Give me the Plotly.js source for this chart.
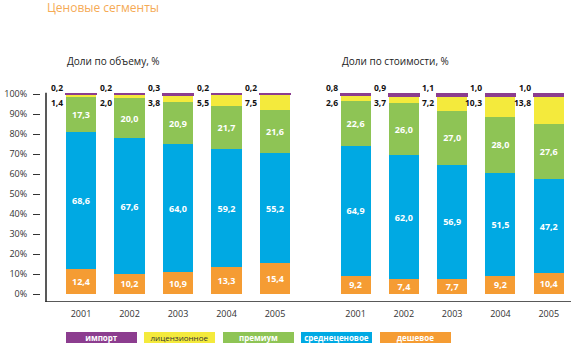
<!DOCTYPE html>
<html><head><meta charset="utf-8">
<script src="https://cdn.plot.ly/plotly-3.0.1.min.js"></script>
<style>html,body{margin:0;padding:0;background:#fff}#chart{width:573px;height:343px}</style>
</head><body><div id="chart"></div>
<script>
const years = ['2001','2002','2003','2004','2005'];
const seriesNames = ['импорт','лицензионное','премиум','среднеценовое','дешевое'];
const chartTitle = 'Ценовые сегменты';
const panelTitles = ['Доли по объему, %','Доли по стоимости, %'];
const yTickVals = [0,10,20,30,40,50,60,70,80,90,100];
const yTickText = ['0%','10%','20%','30%','40%','50%','60%','70%','80%','90%','100%'];

// Volume shares
const volImport   = [0.2, 0.2, 0.3, 0.2, 0.2];
const volLicensed = [1.4, 2.0, 3.8, 5.5, 7.5];
const volPremium  = [17.3, 20.0, 20.9, 21.7, 21.6];
const volMid      = [68.6, 67.6, 64.0, 59.2, 55.2];
const volCheap    = [12.4, 10.2, 10.9, 13.3, 15.4];
// Value shares
const valImport   = [0.8, 0.9, 1.1, 1.0, 1.0];
const valLicensed = [2.6, 3.7, 7.2, 10.3, 13.8];
const valPremium  = [22.6, 26.0, 27.0, 28.0, 27.6];
const valMid      = [64.9, 62.0, 56.9, 51.5, 47.2];
const valCheap    = [9.2, 7.4, 7.7, 9.2, 10.4];

const colors = {imp:'#8c3d8f', lic:'#f4ea3c', prem:'#8ec455', mid:'#00a9e3', cheap:'#f59c33'};
const FONT = 'Open Sans, DejaVu Sans, sans-serif';
const fmt = v => v.toFixed(1).replace('.', ',');

const W = 573, H = 343;
const px2x = p => p / W, px2y = p => (H - p) / H;

function panel(xa, cheap, mid, prem, lic, imp) {
  const mk = (name, vals, color, withText) => ({
    type:'bar', x: years, y: vals, name: name, xaxis: xa, yaxis:'y',
    marker:{color: color, line:{width: name===seriesNames[0] ? 1.5 : 0, color: color}},
    text: withText ? vals.map(fmt) : undefined,
    textposition: withText ? 'inside' : 'none',
    insidetextanchor:'middle', textangle:0, constraintext:'none',
    textfont:{family:FONT, size:9, color:'#ffffff', weight:700},
    hoverinfo:'skip', showlegend:false
  });
  return [
    mk(seriesNames[4], cheap, colors.cheap, true),
    mk(seriesNames[3], mid, colors.mid, true),
    mk(seriesNames[2], prem, colors.prem, true),
    mk(seriesNames[1], lic, colors.lic, false),
    mk(seriesNames[0], imp, colors.imp, false)
  ];
}

const data = [
  ...panel('x', volCheap, volMid, volPremium, volLicensed, volImport),
  ...panel('x2', valCheap, valMid, valPremium, valLicensed, valImport)
];

const annotations = [];
function sideLabels(xref, lic, imp) {
  years.forEach((yr, i) => {
    annotations.push({xref:xref, yref:'y', x:i, y:103, text:fmt(imp[i]), showarrow:false,
      xanchor:'right', yanchor:'middle', xshift:-16, font:{family:FONT, size:8.5, color:'#111', weight:700}});
    annotations.push({xref:xref, yref:'y', x:i, y:95.5, text:fmt(lic[i]), showarrow:false,
      xanchor:'right', yanchor:'middle', xshift:-16, font:{family:FONT, size:8.5, color:'#111', weight:700}});
  });
}
sideLabels('x', volLicensed, volImport);
sideLabels('x2', valLicensed, valImport);

annotations.push({xref:'paper', yref:'paper', x:px2x(45), y:px2y(7), text:chartTitle, showarrow:false,
  xanchor:'left', yanchor:'middle', font:{family:FONT, size:12, color:'#f5aa55'}});
annotations.push({xref:'paper', yref:'paper', x:px2x(65), y:px2y(61), text:panelTitles[0], showarrow:false,
  xanchor:'left', yanchor:'middle', font:{family:FONT, size:10, color:'#222'}});
annotations.push({xref:'paper', yref:'paper', x:px2x(340), y:px2y(61), text:panelTitles[1], showarrow:false,
  xanchor:'left', yanchor:'middle', font:{family:FONT, size:10, color:'#222'}});

// legend boxes
const legColors = [colors.imp, colors.lic, colors.prem, colors.mid, colors.cheap];
const legLeft = [66, 144, 223, 301, 380];
seriesNames.forEach((n, i) => {
  const isLic = i === 1;
  annotations.push({xref:'paper', yref:'paper', x:px2x(legLeft[i]), y:px2y(332), text:n, showarrow:false,
    xanchor:'left', yanchor:'top', width:71, height:11, align:'center', valign:'middle',
    bgcolor:legColors[i], borderpad:0, borderwidth:0,
    font:{family:FONT, size:8, color: isLic ? '#333' : '#ffffff', weight: isLic ? 400 : 700}});
});

const yLo = -4, yHi = 106;
const layout = {
  width: W, height: H, margin:{l:0, r:0, t:0, b:0}, autosize:false,
  paper_bgcolor:'#fff', plot_bgcolor:'rgba(0,0,0,0)',
  barmode:'stack', bargap:0.38,
  xaxis:{domain:[px2x(56.75), px2x(299.25)], anchor:'y', type:'category', range:[-0.5,4.5],
    showline:false, ticks:'', showgrid:false, zeroline:false, ticklabelstandoff:5,
    tickfont:{family:FONT, size:9, color:'#333'}, fixedrange:true},
  xaxis2:{domain:[px2x(331.4), px2x(572.9)], anchor:'y', type:'category', range:[-0.5,4.5],
    showline:false, ticks:'', showgrid:false, zeroline:false, ticklabelstandoff:5,
    tickfont:{family:FONT, size:9, color:'#333'}, fixedrange:true},
  yaxis:{domain:[px2y(302), px2y(302 - (yHi - yLo) * 2)], range:[yLo, yHi], anchor:'free', position:px2x(40),
    showline:false, showgrid:false, zeroline:false, ticks:'outside', ticklen:7, tickwidth:1, tickcolor:'#333',
    ticklabelstandoff:4,
    tickvals:yTickVals, ticktext:yTickText, tickfont:{family:FONT, size:9, color:'#333'}, fixedrange:true},
  shapes:[
    {type:'line', xref:'paper', yref:'y', x0:px2x(46), x1:px2x(46), y0:yLo, y1:100.6, line:{color:'#222', width:1.5}},
    {type:'line', xref:'paper', yref:'y', x0:px2x(45.3), x1:px2x(571), y0:yLo, y1:yLo, line:{color:'#222', width:1.5}}
  ],
  annotations: annotations,
  showlegend:false
};
Plotly.newPlot('chart', data, layout, {displayModeBar:false, staticPlot:true});
</script></body></html>
